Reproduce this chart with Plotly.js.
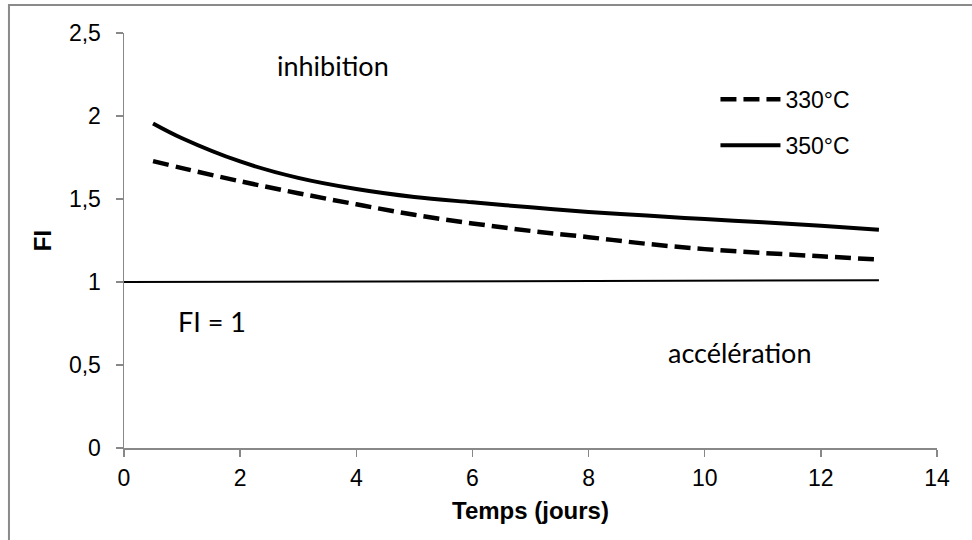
<!DOCTYPE html>
<html>
<head>
<meta charset="utf-8">
<script src="https://cdn.plot.ly/plotly-3.0.1.min.js"></script>
<style>
html,body{margin:0;padding:0;background:#fff;}
#chart{width:972px;height:540px;}
</style>
</head>
<body>
<div id="chart"></div>
<script>
// Time (days)
var days = [0.5, 1, 2, 3, 4, 5, 6, 7, 8, 9, 10, 11, 12, 13];
// FI at 330°C (dashed)
var fi330 = [1.728, 1.686, 1.607, 1.535, 1.468, 1.405, 1.353, 1.308, 1.270, 1.230, 1.198, 1.175, 1.155, 1.135];
// FI at 350°C (solid)
var fi350 = [1.955, 1.866, 1.726, 1.627, 1.560, 1.512, 1.480, 1.450, 1.422, 1.400, 1.379, 1.360, 1.339, 1.315];
// Reference line FI = 1
var refX = [0, 13];
var refY = [1, 1.01];

var seriesNames = ["330°C", "350°C"];
var xTicks = [0, 2, 4, 6, 8, 10, 12, 14];
var yTicks = [0, 0.5, 1, 1.5, 2, 2.5];

var arial = "Liberation Sans, Arial, sans-serif";
var tickFont = {family: arial, size: 23, color: "#000"};
var noteFont = {family: "Lato, sans-serif", size: 27, color: "#000"};

var traces = [
  {x: days, y: fi330, name: seriesNames[0], mode: "lines", type: "scatter",
   line: {color: "#000", width: 4.5, dash: "16px,7px", shape: "spline", smoothing: 1},
   legendgroup: "a", hoverinfo: "skip"},
  {x: days, y: fi350, name: seriesNames[1], mode: "lines", type: "scatter",
   line: {color: "#000", width: 4, shape: "spline", smoothing: 1},
   legendgroup: "b", hoverinfo: "skip"},
  {x: refX, y: refY, name: "FI = 1", mode: "lines", type: "scatter",
   line: {color: "#000", width: 2}, showlegend: false, hoverinfo: "skip"}
];

var axisCommon = {
  showgrid: false, zeroline: false, showline: true,
  linecolor: "#888", linewidth: 1.5,
  ticks: "outside", ticklen: 7, tickwidth: 1.5, tickcolor: "#888",
  tickfont: tickFont
};

var layout = {
  width: 972, height: 540,
  margin: {l: 124, r: 35, t: 33, b: 92},
  paper_bgcolor: "#fff", plot_bgcolor: "#fff",
  separators: ", ",
  showlegend: true,
  legend: {
    x: 0.7275, y: 0.892, xanchor: "left", yanchor: "top",
    font: {family: arial, size: 23, color: "#000"},
    itemwidth: 60, traceorder: "grouped", tracegroupgap: 13,
    bgcolor: "rgba(0,0,0,0)"
  },
  xaxis: Object.assign({}, axisCommon, {
    range: [0, 14], tickvals: xTicks, ticklabelstandoff: 2,
    title: {text: "Temps (jours)", standoff: 12,
            font: {family: arial, size: 24, color: "#000", weight: "bold"}}
  }),
  yaxis: Object.assign({}, axisCommon, {
    range: [0, 2.5], tickvals: yTicks, ticklabelstandoff: 10, automargin: true,
    title: {text: "FI", standoff: 10,
            font: {family: arial, size: 24, color: "#000", weight: "bold"}}
  }),
  annotations: [
    {x: 3.6, y: 2.305, xref: "x", yref: "y", text: "inhibition", showarrow: false, font: noteFont},
    {x: 1.52, y: 0.765, xref: "x", yref: "y", text: "FI = 1", showarrow: false, font: noteFont},
    {x: 10.6, y: 0.575, xref: "x", yref: "y", text: "accélération", showarrow: false, font: noteFont}
  ],
  shapes: [
    {type: "rect", xref: "paper", yref: "paper", x0: -0.1415, x1: 1.06, y0: -0.25, y1: 1.0675,
     line: {color: "#8a8a8a", width: 2}, fillcolor: "rgba(0,0,0,0)", layer: "below"}
  ]
};

Plotly.newPlot("chart", traces, layout, {displayModeBar: false, staticPlot: true});
</script>
</body>
</html>
